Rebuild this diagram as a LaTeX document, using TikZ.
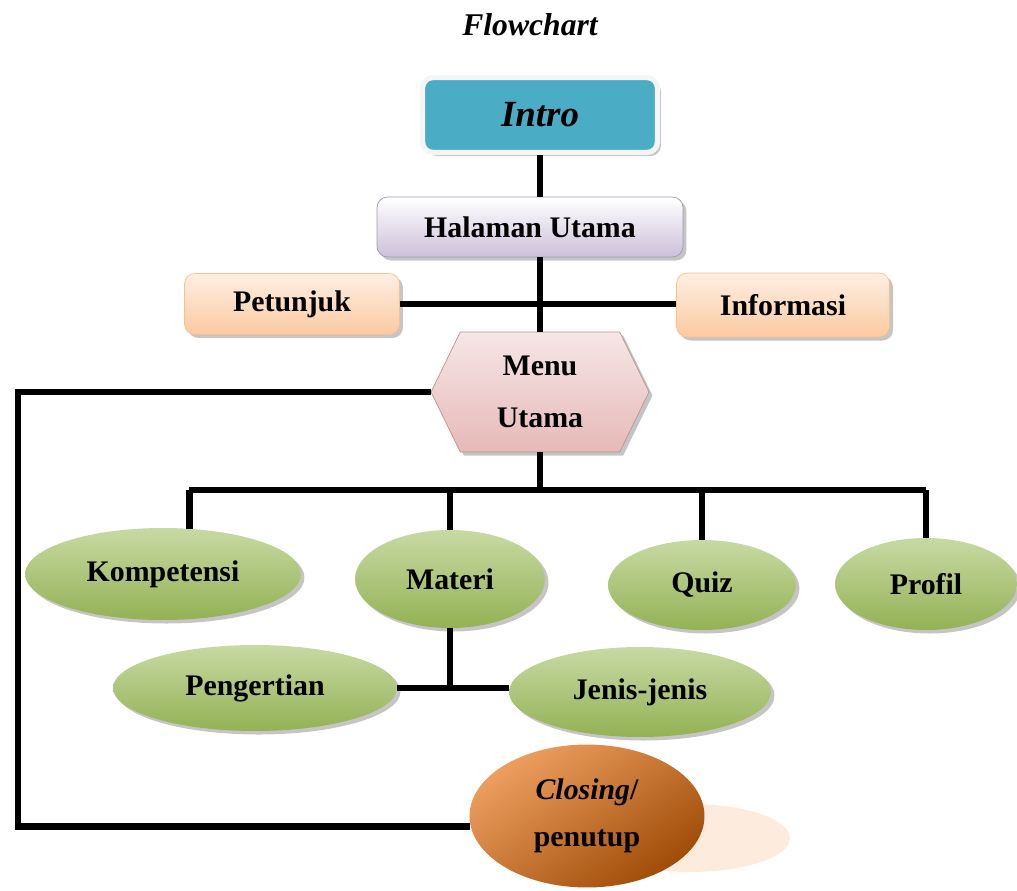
\documentclass[tikz,border=0pt]{standalone}
\usepackage{fontspec}
\setmainfont{Liberation Serif}
\usetikzlibrary{shapes.geometric}
\usetikzlibrary{shapes.symbols}
\usetikzlibrary{shadows}
\usetikzlibrary{positioning}

\definecolor{introteal}{HTML}{4BACC6}
\definecolor{lavender}{HTML}{CCC0DA}
\definecolor{peach}{HTML}{FAC090}
\definecolor{menupink}{HTML}{E6B9B8}
\definecolor{leafgreen}{HTML}{9BBB59}
\definecolor{closingorange}{HTML}{E46C0A}

\tikzset{
  labelfont/.style={font=\bfseries\fontsize{17}{21}\selectfont},
  softshadow/.style={drop shadow={shadow xshift=2pt, shadow yshift=-2pt, fill=black!45, opacity=0.5}},
  pagebox/.style={rectangle, rounded corners=6pt, labelfont, softshadow, inner sep=0pt},
  ovalnode/.style={ellipse, labelfont, softshadow, inner sep=0pt,
    top color=leafgreen!55!white, bottom color=leafgreen!95!black},
  link/.style={line width=3.8pt, black}
}

\begin{document}
\begin{tikzpicture}[x=0.02cm, y=-0.02cm]
  \useasboundingbox (0,0) rectangle (1017,891);

  % Title
  \node[font=\bfseries\itshape\fontsize{18}{22}\selectfont] (title) at (530,25) {Flowchart};

  % Top of the chart
  \node[pagebox, fill=introteal, draw=white!92!gray, line width=3pt,
        minimum width=4.7cm, minimum height=1.5cm,
        font=\bfseries\itshape\fontsize{21}{25}\selectfont] (intro) at (540,115) {Intro};
  \node[pagebox, top color=white, bottom color=lavender, draw=lavender!80!black,
        minimum width=6.12cm, minimum height=1.2cm] (halaman) at (530,227) {Halaman Utama};
  \node[pagebox, top color=peach!25!white, bottom color=peach!85!white, draw=peach,
        minimum width=4.3cm, minimum height=1.22cm] (petunjuk) at (292,304) {Petunjuk};
  \node[pagebox, top color=peach!25!white, bottom color=peach!85!white, draw=peach,
        minimum width=4.26cm, minimum height=1.28cm] (informasi) at (783,305) {Informasi};
  \node[signal, signal to=east and west, signal pointer angle=128, labelfont, softshadow,
        top color=menupink!35!white, bottom color=menupink, draw=menupink!80!black,
        minimum width=4.36cm, minimum height=2.4cm, align=center, inner sep=0pt] (menu) at (540,392) {Menu\\[9pt]Utama};

  % Second row
  \node[ovalnode, minimum width=5.52cm, minimum height=1.84cm] (kompetensi) at (163,574) {Kompetensi};
  \node[ovalnode, minimum width=3.8cm, minimum height=1.96cm] (materi) at (450,579) {Materi};
  \node[ovalnode, minimum width=3.76cm, minimum height=1.8cm] (quiz) at (702,585) {Quiz};
  \node[ovalnode, minimum width=3.64cm, minimum height=1.84cm] (profil) at (926,584) {Profil};
  \node[ovalnode, minimum width=5.68cm, minimum height=1.72cm] (pengertian) at (255,688) {Pengertian};
  \node[ovalnode, minimum width=5.24cm, minimum height=1.8cm] (jenis) at (640,692) {Jenis-jenis};

  % Closing with its shadow
  \fill[peach!30!white] (690,838) ellipse (2cm and 0.68cm);
  \node[ellipse, labelfont, inner sep=0pt, align=center,
        top color=closingorange!65!white, bottom color=closingorange!70!black, shading angle=35,
        minimum width=4.7cm, minimum height=2.86cm] (closing) at (587,816) {\textit{Closing}/\\[6pt]penutup};

  % Connectors
  \coordinate (bus) at (540,490);
  \coordinate (loopcorner) at (18,392);
  \draw[link] (intro.south) -- (intro.south |- halaman.north);
  \draw[link] (intro.south |- halaman.south) -- (menu.north);
  \draw[link] (petunjuk.east) -- (petunjuk.east -| informasi.west);
  \draw[link] (menu.south) -- (bus);
  \draw[link] (kompetensi.60 |- bus) -- (profil.north |- bus);
  \foreach \leaf/\spot in {kompetensi/60, materi/north, quiz/north, profil/north}
    \draw[link] (\leaf.\spot |- bus) -- (\leaf.\spot);
  \draw[link] (materi.south) -- (materi.south |- pengertian.east);
  \draw[link] (pengertian.east) -- (pengertian.east -| jenis.west);
  \draw[link] (menu.west) -- (loopcorner) |- (closing.185);
\end{tikzpicture}
\end{document}
